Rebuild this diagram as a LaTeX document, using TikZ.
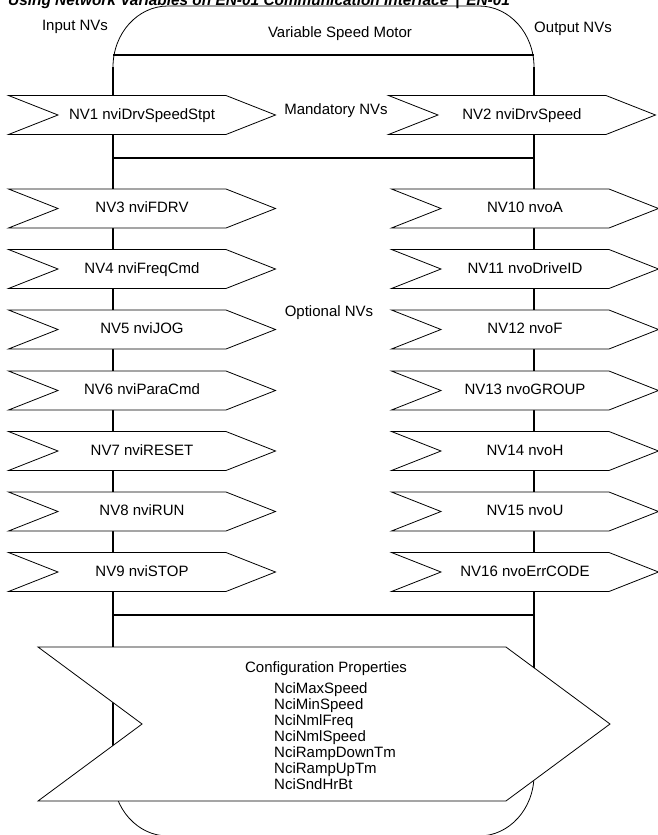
\documentclass[tikz,border=0pt]{standalone}
\usepackage{fontspec}
\setmainfont{Liberation Sans}
\usetikzlibrary{shapes.symbols}
\tikzset{nv/.style={signal,signal to=east,signal from=west,signal pointer angle=43,draw,fill=white,line width=0.8pt,minimum width=267pt,minimum height=39pt,inner sep=0pt,text height=11pt,text depth=3pt},
         cfgprop/.style={signal,signal to=east,signal from=west,signal pointer angle=73,draw,fill=white,line width=0.8pt,minimum width=572pt,minimum height=154pt},
         bus/.style={line width=2pt},
         lbl/.style={inner sep=0pt,text height=11pt,text depth=3pt},
        }

\begin{document}
\begin{tikzpicture}[x=1pt,y=-1pt,font=\fontsize{15}{16.1}\selectfont]
        \clip(0,0)rectangle(658,835);
        \node[anchor=base west,inner sep=0pt,font=\fontsize{15.4}{17}\selectfont\bfseries\itshape](title)at(8,5.5){Using Network Variables on EN-01 Communication Interface \,|\, EN-01};
        % motor body
        \draw[line width=0.8pt](113,775)--(113,67) arc[start angle=180,end angle=270,x radius=55,y radius=61]--(479,6) arc[start angle=270,end angle=360,x radius=55,y radius=61]--(534,775) arc[start angle=0,end angle=90,x radius=55,y radius=61]--(168,836) arc[start angle=90,end angle=180,x radius=55,y radius=61]--cycle;
        \draw[bus](113,67)--(113,775);
        \draw[bus](534,67)--(534,775);
        \draw[bus](113,55)--(534,55);
        \draw[bus](113,158)--(534,158);
        \draw[bus](113,615)--(534,615);
        \node[lbl](innv)at(75,26){Input NVs};
        \node[lbl](vsm)at(340,33){Variable Speed Motor};
        \node[lbl](outnv)at(573,28){Output NVs};
        \node[lbl](mand)at(336,110){Mandatory NVs};
        \node[lbl](opt)at(329,312){Optional NVs};
        % input NVs
        \node[nv](nv1)at(142,115){NV1 nviDrvSpeedStpt};
        \node[nv](nv3)at(142,208.5){NV3 nviFDRV};
        \node[nv](nv4)at(142,269){NV4 nviFreqCmd};
        \node[nv](nv5)at(142,329.5){NV5 nviJOG};
        \node[nv](nv6)at(142,390.5){NV6 nviParaCmd};
        \node[nv](nv7)at(142,451){NV7 nviRESET};
        \node[nv](nv8)at(142,511.5){NV8 nviRUN};
        \node[nv](nv9)at(142,572){NV9 nviSTOP};
        % output NVs
        \node[nv](nv2)at(522,115){NV2 nviDrvSpeed};
        \node[nv](nv10)at(525,208.5){NV10 nvoA};
        \node[nv](nv11)at(525,269){NV11 nvoDriveID};
        \node[nv](nv12)at(525,329.5){NV12 nvoF};
        \node[nv](nv13)at(525,390.5){NV13 nvoGROUP};
        \node[nv](nv14)at(525,451){NV14 nvoH};
        \node[nv](nv15)at(525,511.5){NV15 nvoU};
        \node[nv](nv16)at(525,572){NV16 nvoErrCODE};
        % configuration properties
        \node[cfgprop](cfg)at(324,724){};
        \node[anchor=base,inner sep=0pt](cfgt)at(326,672){Configuration Properties};
        \node[anchor=north west,align=left,inner sep=0pt](cfgl)at(274,682){NciMaxSpeed\\NciMinSpeed\\NciNmlFreq\\NciNmlSpeed\\NciRampDownTm\\NciRampUpTm\\NciSndHrBt};
\end{tikzpicture}
\end{document}
